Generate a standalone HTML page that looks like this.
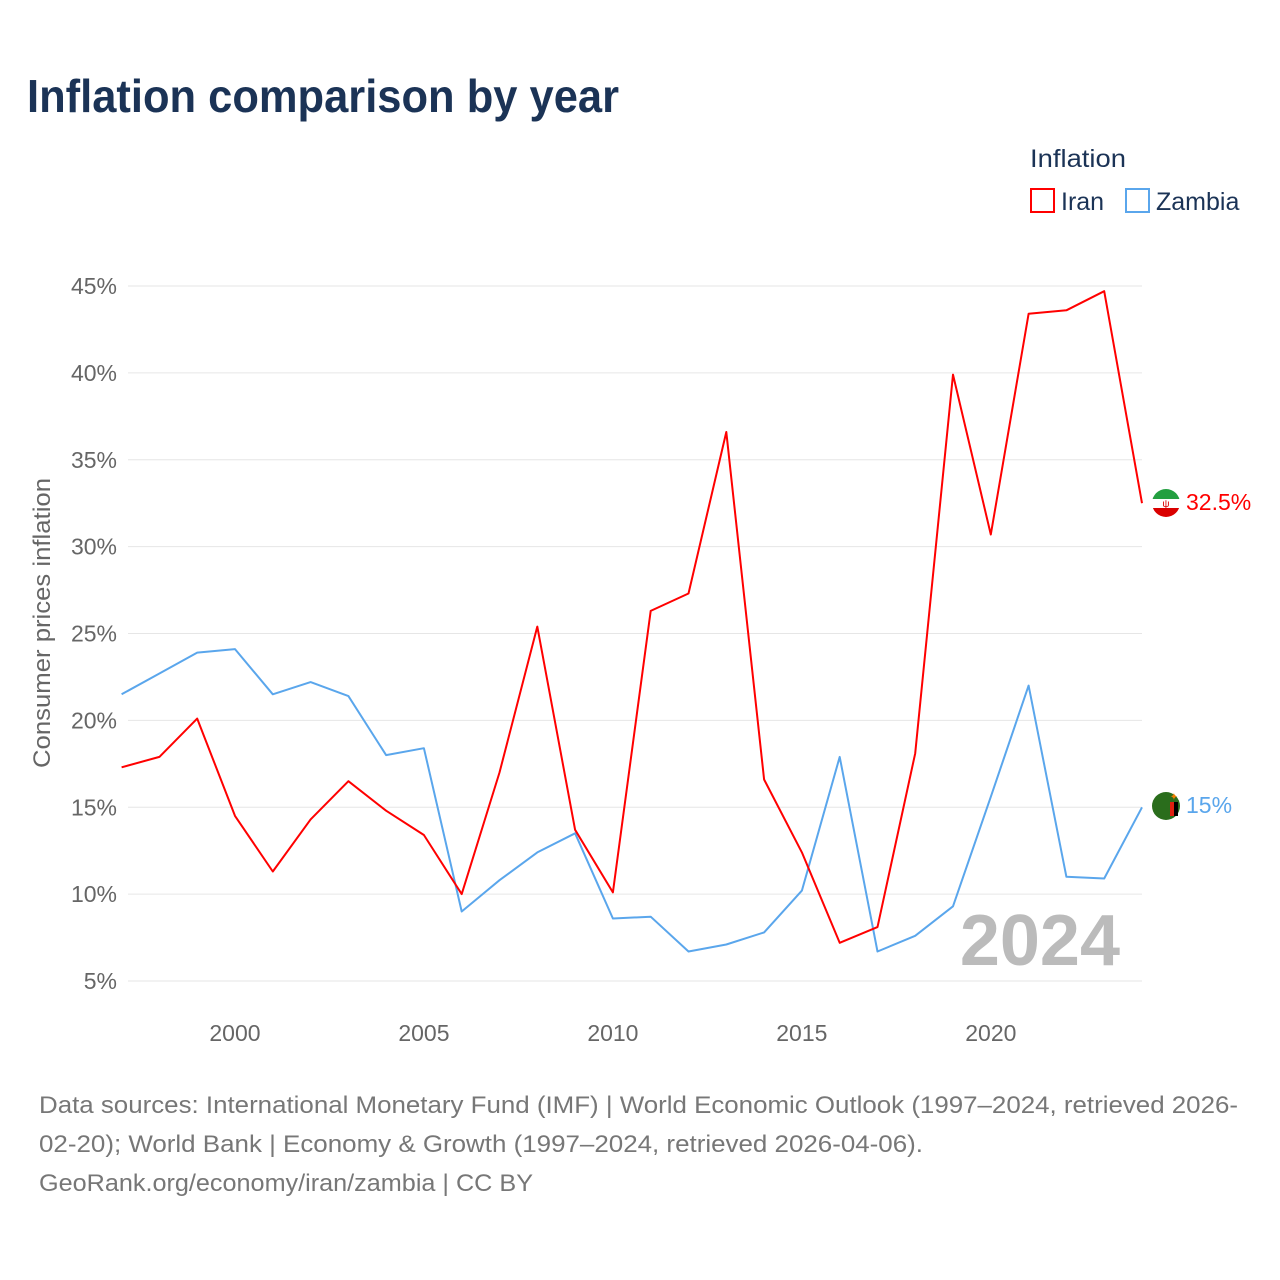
<!DOCTYPE html>
<html><head><meta charset="utf-8"><style>
body{margin:0;background:#fff;font-family:"Liberation Sans",sans-serif;}
#wrap{position:relative;width:1280px;height:1280px;overflow:hidden}
</style></head><body>
<div id="wrap">
<svg id="chart" width="1280" height="1280">
<text x="27" y="112" font-size="46" font-weight="bold" fill="#1b3356" textLength="592" lengthAdjust="spacingAndGlyphs">Inflation comparison by year</text>
<g>
<text x="1030" y="167" font-size="25" fill="#1b3356" textLength="96" lengthAdjust="spacingAndGlyphs">Inflation</text>
<g><rect x="1031" y="189" width="23" height="23" fill="none" stroke="#ff0000" stroke-width="2"/><text x="1061" y="210" font-size="25" fill="#1b3356">Iran</text></g>
<g><rect x="1126" y="189" width="23" height="23" fill="none" stroke="#5aa6ec" stroke-width="2"/><text x="1156" y="210" font-size="25" fill="#1b3356">Zambia</text></g>
</g>
<g id="grid"></g>
<g id="yticks"></g>
<g id="xticks"></g>
<text transform="translate(50,623) rotate(-90)" text-anchor="middle" font-size="24" fill="#666" textLength="290" lengthAdjust="spacingAndGlyphs">Consumer prices inflation</text>
<text x="1120" y="965" text-anchor="end" font-size="72" font-weight="bold" fill="#bbb">2024</text>
<g id="series"></g>
<g>
<clipPath id="c1"><circle cx="1166" cy="503" r="14"/></clipPath>
<g clip-path="url(#c1)"><rect x="1152" y="489" width="28" height="10" fill="#239f40"/><rect x="1152" y="499" width="28" height="9" fill="#fff"/><rect x="1152" y="508" width="28" height="10" fill="#da0000"/></g>
<text x="1166" y="507" text-anchor="middle" font-size="10" fill="#da0000">ψ</text></g>
<text x="1186" y="510" font-size="23" fill="#ff0000">32.5%</text>
<g>
<circle cx="1166" cy="806" r="14" fill="#2a6d1c"/><rect x="1170" y="802" width="8" height="14" fill="#de2010"/><rect x="1174" y="802" width="4" height="14" fill="#000"/><text x="1174" y="800" font-size="10" fill="#ef7d00" text-anchor="middle">✦</text></g>
<text x="1186" y="813" font-size="23" fill="#5aa6ec">15%</text>
<g font-size="24" fill="#777">
<text x="39" y="1113" textLength="1199" lengthAdjust="spacingAndGlyphs">Data sources: International Monetary Fund (IMF) | World Economic Outlook (1997–2024, retrieved 2026-</text>
<text x="39" y="1152" textLength="884" lengthAdjust="spacingAndGlyphs">02-20); World Bank | Economy &amp; Growth (1997–2024, retrieved 2026-04-06).</text>
<text x="39" y="1191" textLength="494" lengthAdjust="spacingAndGlyphs">GeoRank.org/economy/iran/zambia | CC BY</text>
</g>
</svg></div>
<script>
const years=[1997,1998,1999,2000,2001,2002,2003,2004,2005,2006,2007,2008,2009,2010,2011,2012,2013,2014,2015,2016,2017,2018,2019,2020,2021,2022,2023,2024];
const iran=[17.3,17.9,20.1,14.5,11.3,14.3,16.5,14.8,13.4,10.0,17.0,25.4,13.7,10.1,26.3,27.3,36.6,16.6,12.4,7.2,8.1,18.1,39.9,30.7,43.4,43.6,44.7,32.5];
const zambia=[21.5,22.7,23.9,24.1,21.5,22.2,21.4,18.0,18.4,9.0,10.8,12.4,13.5,8.6,8.7,6.7,7.1,7.8,10.2,17.9,6.7,7.6,9.3,15.6,22.0,11.0,10.9,15.0];
const yTicks=[5,10,15,20,25,30,35,40,45];
const xTicks=[2000,2005,2010,2015,2020];
const NS="http://www.w3.org/2000/svg";
function x(v){return 121.6+(v-1997)*(1142-121.6)/27;}
function y(v){return 981-(v-5)*(981-286)/40;}
function mk(tag,attrs,parent){const e=document.createElementNS(NS,tag);for(const k in attrs)e.setAttribute(k,attrs[k]);parent.appendChild(e);return e;}
const grid=document.getElementById('grid'),yt=document.getElementById('yticks'),xt=document.getElementById('xticks'),ser=document.getElementById('series');
yTicks.forEach(t=>{
 const l=mk('line',{x1:128,x2:1142,y1:y(t),y2:y(t),stroke:'#e6e6e6','stroke-width':1},grid);
 
 
 const tx=mk('text',{x:117,y:y(t)+8,'text-anchor':'end','font-size':23,fill:'#666'},yt);
 tx.textContent=t+'%';
 
 
});
xTicks.forEach(t=>{
 const tx=mk('text',{x:x(t),y:1041,'text-anchor':'middle','font-size':23,fill:'#666'},xt);
 tx.textContent=t;
 
 
});
function line(vals,color,name){
 const d=vals.map((v,i)=>(i?'L':'M')+x(years[i]).toFixed(1)+','+y(v).toFixed(1)).join('');
 const p=mk('path',{d:d,fill:'none',stroke:color,'stroke-width':2,'stroke-linejoin':'round'},ser);
 
 
}
line(zambia,'#5aa6ec','zambia-line');
line(iran,'#ff0000','iran-line');
</script>
</body></html>
